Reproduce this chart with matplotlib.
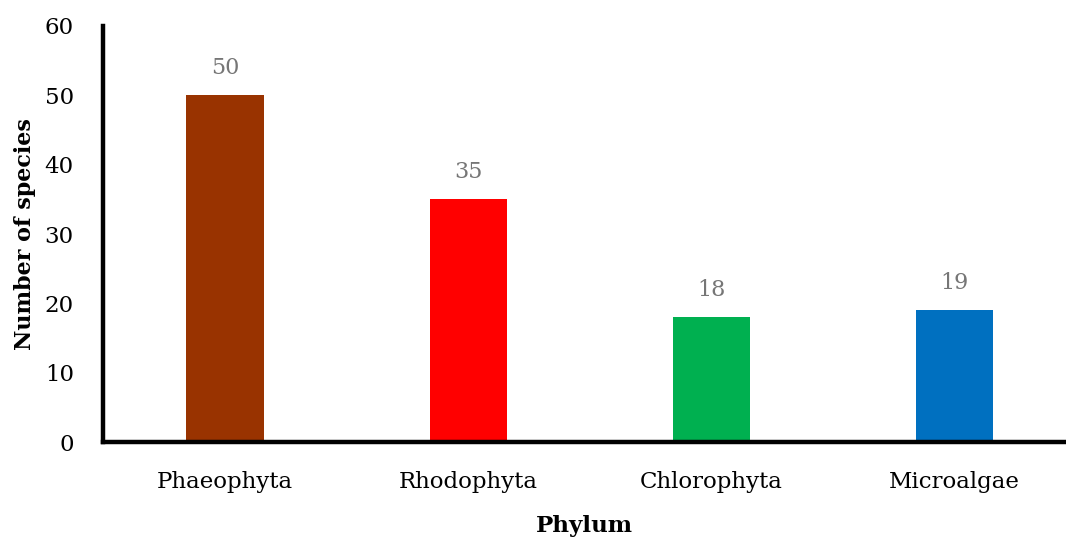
import matplotlib
matplotlib.use('Agg')
import matplotlib.pyplot as plt

phylum = ['Phaeophyta', 'Rhodophyta', 'Chlorophyta', 'Microalgae']
species = [50, 35, 18, 19]
colors = ['#993300', '#ff0000', '#00b050', '#0070c0']

plt.rcParams['font.family'] = ['DejaVu Serif']

fig = plt.figure(figsize=(10.66, 5.38), dpi=100)
ax = fig.add_axes([0.0966, 0.1784, 0.9034, 0.7733])

x = range(len(phylum))
bars = ax.bar(x, species, width=0.317, color=colors)
for xi, v in zip(x, species):
    ax.text(xi, v + 2.3, str(v), ha='center', va='bottom', fontsize=16, color='#767676')

ax.set_xlim(-0.502, 3.46)
ax.set_ylim(0, 60)
ax.set_yticks(range(0, 61, 10))
ax.set_xticks(list(x))
ax.set_xticklabels(phylum)
ax.tick_params(axis='both', length=0, labelsize=16.5)
ax.tick_params(axis='x', pad=21)
ax.tick_params(axis='y', pad=21)

ax.spines['top'].set_visible(False)
ax.spines['right'].set_visible(False)
ax.spines['left'].set_linewidth(3.2)
ax.spines['bottom'].set_linewidth(3.2)

ax.set_xlabel('Phylum', fontsize=16.5, fontweight='bold', labelpad=16)
ax.set_ylabel('Number of species', fontsize=16, fontweight='bold', labelpad=6)

fig.savefig('out.png', dpi=100)
